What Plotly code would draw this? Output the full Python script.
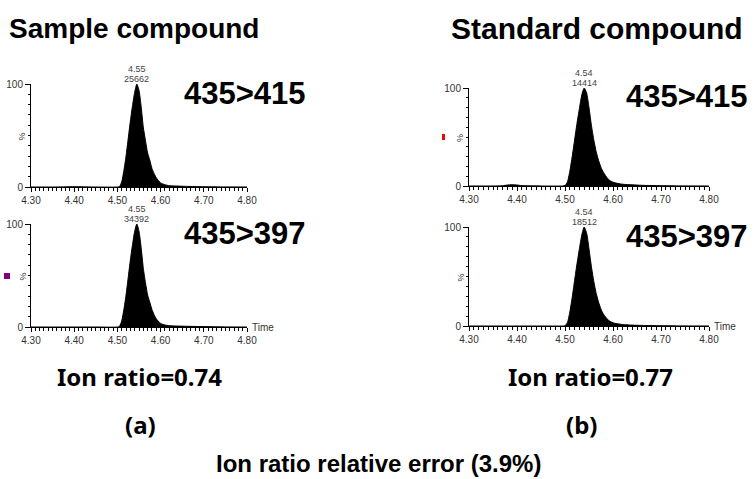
import plotly.graph_objects as go

W, H = 755, 479

# ---- data ----
t_sample = [4.30, 4.35, 4.40, 4.45, 4.50, 4.505, 4.51, 4.515, 4.52, 4.525, 4.53, 4.535, 4.54, 4.545,
            4.55, 4.555, 4.56, 4.565, 4.57, 4.575, 4.58, 4.585, 4.59,
            4.60, 4.61, 4.62, 4.64, 4.66, 4.70, 4.75, 4.80]
i_sample_415 = [0, 0, 0.3, 0, 0, 0.5, 5, 16, 30, 47, 64, 79, 92, 100,
                94, 78, 58, 45, 33, 26, 18, 13, 9,
                4, 2.2, 1.3, 0.9, 0.6, 0.3, 0.1, 0]
i_sample_397 = [0, 0, 0, 0, 0, 0.8, 6, 17, 31, 48, 65, 80, 93, 100,
                93, 77, 57, 43, 31, 24, 17, 12, 8,
                3.5, 2.0, 1.3, 0.9, 0.7, 0.4, 0.1, 0]

t_standard = [4.30, 4.35, 4.37, 4.38, 4.39, 4.40, 4.41, 4.45, 4.495,
              4.50, 4.505, 4.51, 4.515, 4.52, 4.525, 4.53, 4.535, 4.54,
              4.545, 4.55, 4.555, 4.56, 4.565, 4.57, 4.575, 4.58,
              4.59, 4.60, 4.62, 4.64, 4.66, 4.70, 4.75, 4.80]
i_standard_415 = [0, 0, 0.3, 1.0, 1.3, 1.0, 0.4, 0, 0,
                  0.4, 4, 15, 30, 47, 64, 79, 93, 100,
                  95, 80, 62, 47, 35, 26, 19, 14,
                  7, 3.8, 1.8, 1.2, 0.7, 0.3, 0.1, 0]
i_standard_397 = [0, 0, 0, 0, 0, 0, 0, 0, 0,
                  0.3, 3.5, 14, 29, 46, 63, 78, 92, 100,
                  94, 78, 60, 45, 33, 24, 17, 12,
                  6, 3.2, 1.5, 0.9, 0.6, 0.3, 0.1, 0]

peak_times = [4.545, 4.545, 4.54, 4.54]
peak_rt_labels = ["4.55", "4.55", "4.54", "4.54"]
peak_area_labels = ["25662", "34392", "14414", "18512"]
transitions = ["435>415", "435>397", "435>415", "435>397"]
panel_titles = ["Sample compound", "Standard compound"]
ion_ratios = ["Ion ratio=0.74", "Ion ratio=0.77"]
panel_letters = ["(a)", "(b)"]
footer = "Ion ratio relative error (3.9%)"

# ---- layout helpers (pixel -> paper) ----
def px(x):
    return x / W

def py(y):
    return 1 - y / H

# panel pixel boxes: (left, right, top(100), bottom(0))
boxes = [(31, 247, 84, 187), (31, 247, 224, 327), (469, 709, 88, 186), (469, 709, 227, 326)]
series = [(t_sample, i_sample_415), (t_sample, i_sample_397),
          (t_standard, i_standard_415), (t_standard, i_standard_397)]

fig = go.Figure()
layout = dict(width=W, height=H, margin=dict(l=0, r=0, t=0, b=0, autoexpand=False),
              paper_bgcolor="white", plot_bgcolor="white", showlegend=False)
annotations = []
AR = "Liberation Sans, Arial, sans-serif"
tickfont = dict(family=AR, size=10, color="#333")

for k, ((t, v), (l, r, top, bot)) in enumerate(zip(series, boxes)):
    n = "" if k == 0 else str(k + 1)
    fig.add_trace(go.Scatter(x=t, y=v, mode="lines",
                             line=dict(color="black", width=1, shape="spline", smoothing=0.6),
                             fill="tozeroy", fillcolor="black", xaxis="x" + n, yaxis="y" + n,
                             hoverinfo="skip"))
    layout["xaxis" + n] = dict(domain=[px(l), px(r)], anchor="y" + n, range=[4.30, 4.80], automargin=False,
                               tickmode="linear", tick0=4.30, dtick=0.1, tickformat=".2f",
                               ticks="outside", ticklen=4,
                               tickcolor="black", showline=True, linecolor="black", linewidth=1,
                               showgrid=False, zeroline=False, tickfont=tickfont,
                               minor=dict(tickmode="linear", tick0=4.30, dtick=0.01, ticks="outside",
                                          ticklen=3, tickcolor="black", showgrid=False))
    layout["yaxis" + n] = dict(domain=[py(bot), py(top)], anchor="x" + n, range=[0, 100], automargin=False,
                               tickmode="linear", tick0=0, dtick=100,
                               ticks="outside", ticklen=5, tickcolor="black",
                               showline=True, linecolor="black", linewidth=1, showgrid=False,
                               zeroline=False, tickfont=tickfont,
                               minor=dict(tickmode="linear", tick0=0, dtick=10, ticks="outside",
                                          ticklen=2, tickcolor="black", showgrid=False))
    # % label
    annotations.append(dict(text="%", x=px(l - 9), y=py((top + bot) / 2 + 1), xref="paper", yref="paper",
                            textangle=-90, showarrow=False, font=dict(family=AR, size=9, color="#333"),
                            xanchor="center", yanchor="middle"))
    # peak labels
    annotations.append(dict(text=peak_rt_labels[k], x=peak_times[k], y=py(top - 15), xref="x" + n, yref="paper",
                            showarrow=False, font=dict(family=AR, size=9, color="#444"),
                            xanchor="center", yanchor="middle", borderpad=0))
    annotations.append(dict(text=peak_area_labels[k], x=peak_times[k], y=py(top - 5), xref="x" + n, yref="paper",
                            showarrow=False, font=dict(family=AR, size=9, color="#444"),
                            xanchor="center", yanchor="middle", borderpad=0))
    # transition label
    tx = 182 if k < 2 else 624
    annotations.append(dict(text="<b>" + transitions[k] + "</b>", x=px(tx), y=py(top + 9), xref="paper", yref="paper",
                            showarrow=False, font=dict(family=AR, size=31, color="black"),
                            xanchor="left", yanchor="middle"))
    if k in (1, 3):
        annotations.append(dict(text="Time", x=px(r + 3), y=py(bot), xref="paper", yref="paper",
                                showarrow=False, font=dict(family=AR, size=10, color="#333"),
                                xanchor="left", yanchor="middle"))

# titles
for title, x0, fs in zip(panel_titles, [7, 449], [28, 30]):
    annotations.append(dict(text="<b>" + title + "</b>", x=px(x0), y=py(29), xref="paper", yref="paper",
                            showarrow=False, font=dict(family=AR, size=fs, color="black"),
                            xanchor="left", yanchor="middle"))
for txt, cx in zip(ion_ratios, [139, 590]):
    annotations.append(dict(text="<b>" + txt + "</b>", x=px(cx), y=py(376), xref="paper", yref="paper",
                            showarrow=False, font=dict(family="Noto Sans", size=24, color="black"),
                            xanchor="center", yanchor="middle"))
for txt, cx in zip(panel_letters, [140, 581]):
    annotations.append(dict(text="<b>" + txt + "</b>", x=px(cx), y=py(424), xref="paper", yref="paper",
                            showarrow=False, font=dict(family="Noto Sans", size=24, color="black"),
                            xanchor="center", yanchor="middle"))
annotations.append(dict(text="<b>" + footer + "</b>", x=px(378), y=py(463), xref="paper", yref="paper",
                        showarrow=False, font=dict(family=AR, size=24, color="black"),
                        xanchor="center", yanchor="middle"))

layout["annotations"] = annotations
layout["shapes"] = [
    dict(type="rect", xref="paper", yref="paper", x0=px(442), x1=px(445), y0=py(140), y1=py(134),
         fillcolor="red", line=dict(width=0)),
    dict(type="rect", xref="paper", yref="paper", x0=px(4), x1=px(10), y0=py(279), y1=py(273),
         fillcolor="#800080", line=dict(width=0)),
]
fig.update_layout(**layout)
fig.write_html("out.html", config={"displayModeBar": False},
               post_script="document.body.style.margin='0';document.body.style.overflow='hidden';")
